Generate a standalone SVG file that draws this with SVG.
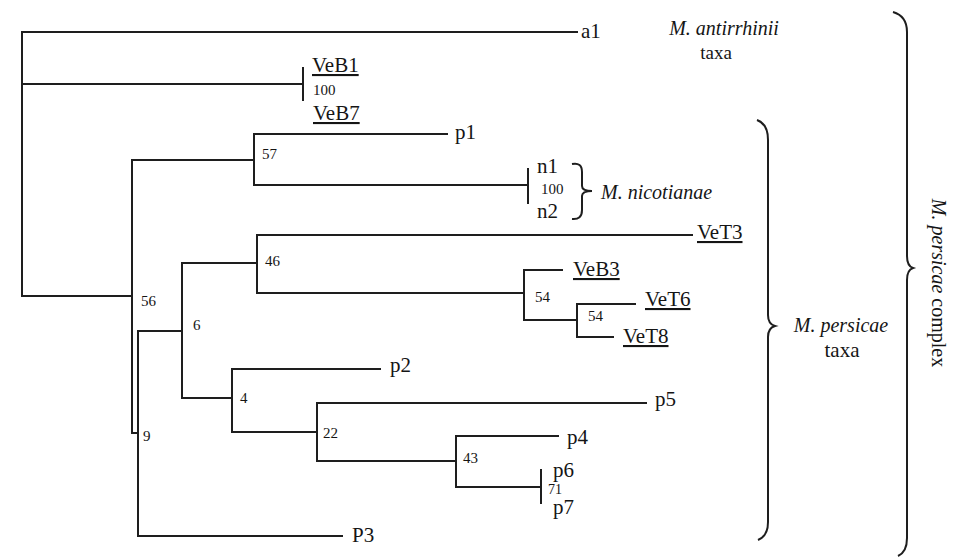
<svg xmlns="http://www.w3.org/2000/svg" width="953" height="558" viewBox="0 0 953 558" font-family="'Liberation Serif', 'DejaVu Serif', 'Times New Roman', serif">
<style>
.e{fill:none;stroke:#1e1e1e;stroke-width:2;stroke-linecap:square}
.b{fill:none;stroke:#1e1e1e;stroke-width:2}
text{font-family:'Liberation Serif','DejaVu Serif','Times New Roman',serif;fill:#151515}
.l{font-size:21px}
.u{font-size:21px;text-decoration:underline}
.s{font-size:15px}
.i{font-size:20px;font-style:italic}
</style>
<rect width="953" height="558" fill="#fff"/>
<g id="connectors">
<path class="e" d="M22,32 V296 H132"/>
<path class="e" d="M22,32 H577"/>
<path class="e" d="M22,84 H303 M303,68 V100"/>
<path class="e" d="M132,160 V433 H138"/>
<path class="e" d="M132,160 H254 M254,134 V185 M254,134 H447 M254,185 H528 M528,169 V203"/>
<path class="e" d="M138,331 V536 H342"/>
<path class="e" d="M138,331 H182 M182,263 V398"/>
<path class="e" d="M182,263 H257 M257,235 V293 M257,235 H692 M257,293 H524"/>
<path class="e" d="M524,270 V320 M524,270 H562 M524,320 H577"/>
<path class="e" d="M577,304 V337 M577,304 H635 M577,337 H613"/>
<path class="e" d="M182,398 H232 M232,369 V432 M232,369 H380 M232,432 H317"/>
<path class="e" d="M317,403 V461 M317,403 H646 M317,461 H456"/>
<path class="e" d="M456,436 V487 M456,436 H558 M456,487 H541 M541,470 V503"/>
</g>
<g id="leaf-a1"><text class="l" x="581" y="38">a1</text></g>
<g id="leaf-VeB1"><text class="u" x="312" y="72">VeB1</text></g>
<g id="leaf-VeB7"><text class="u" x="313" y="120">VeB7</text></g>
<g id="leaf-p1"><text class="l" x="455" y="139">p1</text></g>
<g id="leaf-n1"><text class="l" x="537" y="173">n1</text></g>
<g id="leaf-n2"><text class="l" x="537" y="218">n2</text></g>
<g id="leaf-VeT3"><text class="u" x="697" y="239">VeT3</text></g>
<g id="leaf-VeB3"><text class="u" x="573" y="276">VeB3</text></g>
<g id="leaf-VeT6"><text class="u" x="645" y="306">VeT6</text></g>
<g id="leaf-VeT8"><text class="u" x="623" y="343">VeT8</text></g>
<g id="leaf-p2"><text class="l" x="390" y="372">p2</text></g>
<g id="leaf-p5"><text class="l" x="655" y="406">p5</text></g>
<g id="leaf-p4"><text class="l" x="567" y="444">p4</text></g>
<g id="leaf-p6"><text class="l" x="553" y="477">p6</text></g>
<g id="leaf-p7"><text class="l" x="553" y="514">p7</text></g>
<g id="leaf-P3"><text class="l" x="352" y="542">P3</text></g>
<g id="support-values">
<text class="s" x="313" y="95">100</text>
<text class="s" x="262" y="159">57</text>
<text class="s" x="541" y="194">100</text>
<text class="s" x="265" y="266">46</text>
<text class="s" x="141" y="306">56</text>
<text class="s" x="193" y="330">6</text>
<text class="s" x="535" y="302">54</text>
<text class="s" x="588" y="321">54</text>
<text class="s" x="240" y="403">4</text>
<text class="s" x="323" y="438">22</text>
<text class="s" x="143" y="441">9</text>
<text class="s" x="463" y="463">43</text>
<text class="s" x="548" y="494" style="font-size:14px">71</text>
</g>
<g id="group-antirrhinii">
<text class="i" x="724" y="35" text-anchor="middle">M. antirrhinii</text>
<text class="l" x="716" y="59" text-anchor="middle" style="font-size:19px">taxa</text>
</g>
<g id="group-nicotianae">
<path class="b" d="M572,164 Q582,162 582,172 V186 Q582,191 592,191 Q582,191 582,196 V210 Q582,220 572,219"/>
<text class="i" x="601" y="199">M. nicotianae</text>
</g>
<g id="group-persicae">
<path class="b" d="M757,120 Q768,124 768,140 V315 Q768,324 775,326 Q768,328 768,337 V522 Q768,536 758,540"/>
<text class="i" x="841" y="332" text-anchor="middle">M. persicae</text>
<text class="l" x="842" y="357" text-anchor="middle">taxa</text>
</g>
<g id="group-complex">
<path class="b" d="M893,12 Q907,16 907,32 V256 Q907,266 913,268 Q907,270 907,280 V538 Q907,552 898,556"/>
<text class="i" transform="translate(932,283) rotate(90)" text-anchor="middle">M. persicae <tspan font-style="normal">complex</tspan></text>
</g>
</svg>
